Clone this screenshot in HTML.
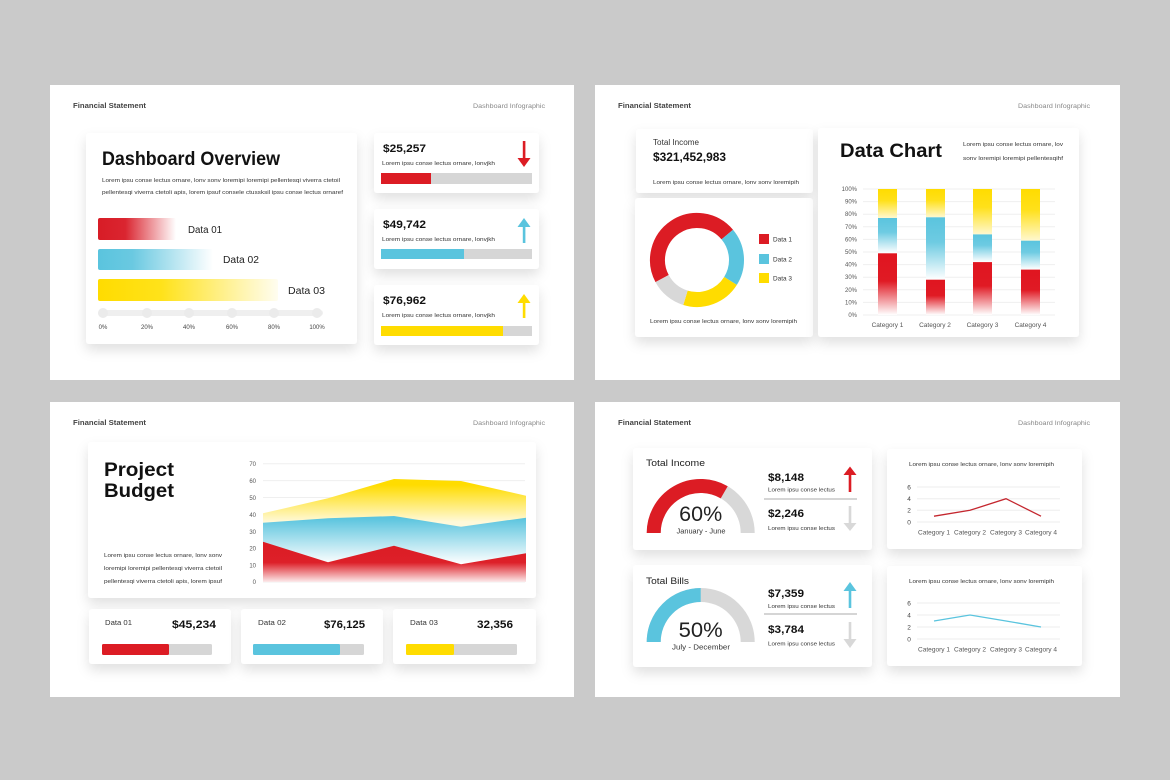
<!DOCTYPE html>
<html><head><meta charset="utf-8"><style>
html,body{margin:0;padding:0;background:#cacaca;}
svg{display:block;}
text{font-family:"Liberation Sans",sans-serif;}
</style></head><body>
<svg width="1170" height="780" viewBox="0 0 1170 780" xmlns="http://www.w3.org/2000/svg">
<defs>
<filter id="sh" x="-20%" y="-25%" width="140%" height="170%"><feDropShadow dx="0" dy="6" stdDeviation="6" flood-color="#000" flood-opacity="0.12"/></filter>
<linearGradient id="hR" x1="0" y1="0" x2="1" y2="0"><stop offset="0" stop-color="#d81c26"/><stop offset="0.35" stop-color="#da2530"/><stop offset="1" stop-color="#ffffff"/></linearGradient>
<linearGradient id="hB" x1="0" y1="0" x2="1" y2="0"><stop offset="0" stop-color="#5ac4de"/><stop offset="0.3" stop-color="#6ac9e1"/><stop offset="1" stop-color="#ffffff"/></linearGradient>
<linearGradient id="hY" x1="0" y1="0" x2="1" y2="0"><stop offset="0" stop-color="#ffdc00"/><stop offset="0.35" stop-color="#ffe21a"/><stop offset="1" stop-color="#fffdf0"/></linearGradient>
<linearGradient id="vR" x1="0" y1="0" x2="0" y2="1"><stop offset="0" stop-color="#e01520"/><stop offset="0.45" stop-color="#e01a24"/><stop offset="1" stop-color="#ffffff"/></linearGradient>
<linearGradient id="vB" x1="0" y1="0" x2="0" y2="1"><stop offset="0" stop-color="#5ac4de"/><stop offset="0.4" stop-color="#6ecbe2"/><stop offset="1" stop-color="#ffffff"/></linearGradient>
<linearGradient id="vY" x1="0" y1="0" x2="0" y2="1"><stop offset="0" stop-color="#ffdc00"/><stop offset="0.4" stop-color="#ffe01a"/><stop offset="1" stop-color="#fff8d0"/></linearGradient>
<linearGradient id="aY" gradientUnits="userSpaceOnUse" x1="0" y1="485" x2="0" y2="522"><stop offset="0" stop-color="#ffdc00"/><stop offset="1" stop-color="#fff9da"/></linearGradient>
<linearGradient id="aB" gradientUnits="userSpaceOnUse" x1="0" y1="518" x2="0" y2="564"><stop offset="0" stop-color="#5ac4de"/><stop offset="1" stop-color="#ffffff"/></linearGradient>
<linearGradient id="aR" gradientUnits="userSpaceOnUse" x1="0" y1="545" x2="0" y2="584"><stop offset="0" stop-color="#dc1c24"/><stop offset="0.45" stop-color="#dd2029"/><stop offset="1" stop-color="#ffffff"/></linearGradient>
</defs>

<rect x="0" y="0" width="1170" height="780" fill="#cacaca"/>

<!-- ============ SLIDE 1 ============ -->
<rect x="50" y="85" width="524" height="295" fill="#ffffff"/>
<text x="73" y="108" font-size="7.5" fill="#444" font-weight="bold" textLength="73" lengthAdjust="spacingAndGlyphs">Financial Statement</text>
<text x="473" y="108" font-size="6.5" fill="#888" textLength="72" lengthAdjust="spacingAndGlyphs">Dashboard Infographic</text>

<rect x="86" y="133" width="271" height="211" rx="3" fill="#fff" filter="url(#sh)"/>
<text x="102" y="165" font-size="19" font-weight="bold" fill="#111" textLength="178" lengthAdjust="spacingAndGlyphs">Dashboard Overview</text>
<text x="102" y="182" font-size="5.4" fill="#333" textLength="238" lengthAdjust="spacingAndGlyphs">Lorem ipsu conse lectus ornare, lonv sonv loremipi loremipi pellentesqi viverra ctetoil</text>
<text x="102" y="194" font-size="5.4" fill="#333" textLength="241" lengthAdjust="spacingAndGlyphs">pellentesqi viverra ctetoli apis, lorem ipsuf consele ctussksil ipsu conse lectus ornaref</text>

<rect x="98" y="218" width="78" height="22" rx="2" fill="url(#hR)"/>
<text x="188" y="233" font-size="10" fill="#222" textLength="34" lengthAdjust="spacingAndGlyphs">Data 01</text>
<rect x="98" y="249" width="115" height="21" rx="2" fill="url(#hB)"/>
<text x="223" y="263" font-size="10" fill="#222" textLength="36" lengthAdjust="spacingAndGlyphs">Data 02</text>
<rect x="98" y="279" width="180" height="22" rx="2" fill="url(#hY)"/>
<text x="288" y="294" font-size="10" fill="#222" textLength="37" lengthAdjust="spacingAndGlyphs">Data 03</text>

<rect x="98" y="310" width="225" height="6" rx="3" fill="#efefef"/>
<g fill="#ebebeb">
<circle cx="103" cy="313" r="5"/><circle cx="147" cy="313" r="5"/><circle cx="189" cy="313" r="5"/>
<circle cx="232" cy="313" r="5"/><circle cx="274" cy="313" r="5"/><circle cx="317" cy="313" r="5"/>
</g>
<g font-size="6" fill="#444" text-anchor="middle">
<text x="103" y="329">0%</text><text x="147" y="329">20%</text><text x="189" y="329">40%</text>
<text x="232" y="329">60%</text><text x="274" y="329">80%</text><text x="317" y="329">100%</text>
</g>

<!-- right cards -->
<rect x="374" y="133" width="165" height="60" rx="3" fill="#fff" filter="url(#sh)"/>
<text x="383" y="152" font-size="11" font-weight="bold" fill="#111" textLength="43" lengthAdjust="spacingAndGlyphs">$25,257</text>
<text x="382" y="165" font-size="5.3" fill="#333" textLength="113" lengthAdjust="spacingAndGlyphs">Lorem ipsu conse lectus ornare, lonvjkh</text>
<rect x="381" y="173" width="151" height="11" fill="#d6d6d6"/>
<rect x="381" y="173" width="50" height="11" fill="#dc1c24"/>
<rect x="522.8" y="141" width="2.6" height="18" fill="#dc1c24"/>
<polygon points="517.5,158 530.5,158 524,167" fill="#dc1c24"/>

<rect x="374" y="209" width="165" height="60" rx="3" fill="#fff" filter="url(#sh)"/>
<text x="383" y="228" font-size="11" font-weight="bold" fill="#111" textLength="43" lengthAdjust="spacingAndGlyphs">$49,742</text>
<text x="382" y="241" font-size="5.3" fill="#333" textLength="113" lengthAdjust="spacingAndGlyphs">Lorem ipsu conse lectus ornare, lonvjkh</text>
<rect x="381" y="249" width="151" height="10" fill="#d6d6d6"/>
<rect x="381" y="249" width="83" height="10" fill="#5ac4de"/>
<polygon points="517.5,227 530.5,227 524,218" fill="#5ac4de"/>
<rect x="522.8" y="226" width="2.6" height="17" fill="#5ac4de"/>

<rect x="374" y="285" width="165" height="60" rx="3" fill="#fff" filter="url(#sh)"/>
<text x="383" y="304" font-size="11" font-weight="bold" fill="#111" textLength="43" lengthAdjust="spacingAndGlyphs">$76,962</text>
<text x="382" y="317" font-size="5.3" fill="#333" textLength="113" lengthAdjust="spacingAndGlyphs">Lorem ipsu conse lectus ornare, lonvjkh</text>
<rect x="381" y="326" width="151" height="10" fill="#d6d6d6"/>
<rect x="381" y="326" width="122" height="10" fill="#ffdc00"/>
<polygon points="517.5,303 530.5,303 524,294" fill="#ffdc00"/>
<rect x="522.8" y="302" width="2.6" height="16" fill="#ffdc00"/>

<!-- ============ SLIDE 2 ============ -->
<rect x="595" y="85" width="525" height="295" fill="#ffffff"/>
<text x="618" y="108" font-size="7.5" fill="#444" font-weight="bold" textLength="73" lengthAdjust="spacingAndGlyphs">Financial Statement</text>
<text x="1018" y="108" font-size="6.5" fill="#888" textLength="72" lengthAdjust="spacingAndGlyphs">Dashboard Infographic</text>

<rect x="636" y="129" width="177" height="64" rx="3" fill="#fff" filter="url(#sh)"/>
<text x="653" y="145" font-size="8" fill="#333" textLength="46" lengthAdjust="spacingAndGlyphs">Total Income</text>
<text x="653" y="161" font-size="12" font-weight="bold" fill="#111" textLength="73" lengthAdjust="spacingAndGlyphs">$321,452,983</text>
<text x="653" y="184" font-size="5.3" fill="#333" textLength="146" lengthAdjust="spacingAndGlyphs">Lorem ipsu conse lectus ornare, lonv sonv loremipih</text>

<rect x="635" y="198" width="178" height="139" rx="3" fill="#fff" filter="url(#sh)"/>
<g fill="none" stroke-width="15">
<path d="M 662.12 278.55 A 39.5 39.5 0 0 1 727.26 234.61" stroke="#dc1c24"/>
<path d="M 727.26 234.61 A 39.5 39.5 0 0 1 730.50 280.93" stroke="#5ac4de"/>
<path d="M 730.50 280.93 A 39.5 39.5 0 0 1 685.45 297.77" stroke="#ffdc00"/>
<path d="M 685.45 297.77 A 39.5 39.5 0 0 1 662.12 278.55" stroke="#d8d8d8"/>
</g>
<rect x="759" y="234" width="10" height="10" fill="#dc1c24"/>
<rect x="759" y="254" width="10" height="10" fill="#5ac4de"/>
<rect x="759" y="273" width="10" height="10" fill="#ffdc00"/>
<g font-size="6.5" fill="#333">
<text x="773" y="241.5" textLength="19" lengthAdjust="spacingAndGlyphs">Data 1</text>
<text x="773" y="261.5" textLength="19" lengthAdjust="spacingAndGlyphs">Data 2</text>
<text x="773" y="280.5" textLength="19" lengthAdjust="spacingAndGlyphs">Data 3</text>
</g>
<text x="650" y="323" font-size="5.3" fill="#333" textLength="147" lengthAdjust="spacingAndGlyphs">Lorem ipsu conse lectus ornare, lonv sonv loremipih</text>

<rect x="818" y="128" width="261" height="209" rx="3" fill="#fff" filter="url(#sh)"/>
<text x="840" y="157" font-size="19" font-weight="bold" fill="#111" textLength="102" lengthAdjust="spacingAndGlyphs">Data Chart</text>
<text x="963" y="146" font-size="5.3" fill="#333" textLength="100" lengthAdjust="spacingAndGlyphs">Lorem ipsu conse lectus ornare, lov</text>
<text x="963" y="160" font-size="5.3" fill="#333" textLength="100" lengthAdjust="spacingAndGlyphs">sonv loremipi loremipi pellentesqihf</text>
<g stroke="#efefef" stroke-width="1">
<line x1="863" y1="189" x2="1055" y2="189"/><line x1="863" y1="201.6" x2="1055" y2="201.6"/>
<line x1="863" y1="214.2" x2="1055" y2="214.2"/><line x1="863" y1="226.8" x2="1055" y2="226.8"/>
<line x1="863" y1="239.4" x2="1055" y2="239.4"/><line x1="863" y1="252" x2="1055" y2="252"/>
<line x1="863" y1="264.6" x2="1055" y2="264.6"/><line x1="863" y1="277.2" x2="1055" y2="277.2"/>
<line x1="863" y1="289.8" x2="1055" y2="289.8"/><line x1="863" y1="302.4" x2="1055" y2="302.4"/>
<line x1="863" y1="315" x2="1055" y2="315"/>
</g>
<g font-size="6" fill="#555" text-anchor="end">
<text x="857" y="191">100%</text><text x="857" y="203.6">90%</text><text x="857" y="216.2">80%</text>
<text x="857" y="228.8">70%</text><text x="857" y="241.4">60%</text><text x="857" y="254">50%</text>
<text x="857" y="266.6">40%</text><text x="857" y="279.2">30%</text><text x="857" y="291.8">20%</text>
<text x="857" y="304.4">10%</text><text x="857" y="317">0%</text>
</g>
<!-- bars -->
<rect x="878" y="189" width="19" height="29" fill="url(#vY)"/>
<rect x="878" y="218" width="19" height="35.3" fill="url(#vB)"/>
<rect x="878" y="253.3" width="19" height="61.7" fill="url(#vR)"/>
<rect x="926" y="189" width="19" height="28.3" fill="url(#vY)"/>
<rect x="926" y="217.3" width="19" height="62.4" fill="url(#vB)"/>
<rect x="926" y="279.7" width="19" height="35.3" fill="url(#vR)"/>
<rect x="973" y="189" width="19" height="45.4" fill="url(#vY)"/>
<rect x="973" y="234.4" width="19" height="27.7" fill="url(#vB)"/>
<rect x="973" y="262.1" width="19" height="52.9" fill="url(#vR)"/>
<rect x="1021" y="189" width="19" height="51.7" fill="url(#vY)"/>
<rect x="1021" y="240.7" width="19" height="28.9" fill="url(#vB)"/>
<rect x="1021" y="269.6" width="19" height="45.4" fill="url(#vR)"/>
<g font-size="6.5" fill="#555" text-anchor="middle">
<text x="887.5" y="327">Category 1</text><text x="935" y="327">Category 2</text>
<text x="982.5" y="327">Category 3</text><text x="1030.5" y="327">Category 4</text>
</g>

<!-- ============ SLIDE 3 ============ -->
<rect x="50" y="402" width="524" height="295" fill="#ffffff"/>
<text x="73" y="425" font-size="7.5" fill="#444" font-weight="bold" textLength="73" lengthAdjust="spacingAndGlyphs">Financial Statement</text>
<text x="473" y="425" font-size="6.5" fill="#888" textLength="72" lengthAdjust="spacingAndGlyphs">Dashboard Infographic</text>

<rect x="88" y="442" width="448" height="156" rx="3" fill="#fff" filter="url(#sh)"/>
<text x="104" y="476" font-size="19.5" font-weight="bold" fill="#111" textLength="70" lengthAdjust="spacingAndGlyphs">Project</text>
<text x="104" y="497" font-size="19.5" font-weight="bold" fill="#111" textLength="70" lengthAdjust="spacingAndGlyphs">Budget</text>
<text x="104" y="557" font-size="5.3" fill="#333" textLength="118" lengthAdjust="spacingAndGlyphs">Lorem ipsu conse lectus ornare, lonv sonv</text>
<text x="104" y="570" font-size="5.3" fill="#333" textLength="118" lengthAdjust="spacingAndGlyphs">loremipi loremipi pellentesqi viverra ctetoil</text>
<text x="104" y="583" font-size="5.3" fill="#333" textLength="118" lengthAdjust="spacingAndGlyphs">pellentesqi viverra ctetoli apis, lorem ipsuf</text>

<g stroke="#efefef" stroke-width="1">
<line x1="263" y1="463.7" x2="525" y2="463.7"/><line x1="263" y1="480.6" x2="525" y2="480.6"/>
<line x1="263" y1="497.5" x2="525" y2="497.5"/><line x1="263" y1="514.4" x2="525" y2="514.4"/>
<line x1="263" y1="531.3" x2="525" y2="531.3"/><line x1="263" y1="548.2" x2="525" y2="548.2"/>
<line x1="263" y1="565.1" x2="525" y2="565.1"/><line x1="263" y1="582" x2="525" y2="582"/>
</g>
<g font-size="6" fill="#555" text-anchor="end">
<text x="256" y="466">70</text><text x="256" y="483">60</text><text x="256" y="500">50</text>
<text x="256" y="517">40</text><text x="256" y="534">30</text><text x="256" y="550.5">20</text>
<text x="256" y="567.5">10</text><text x="256" y="584">0</text>
</g>
<polygon points="263,513.3 328,498.3 394,479 461,481 526,495.7 526,582 263,582" fill="url(#aY)"/>
<polygon points="263,522.7 328,518.3 394,516 461,526.7 526,517.7 526,582 263,582" fill="url(#aB)"/>
<polygon points="263,541.7 328,562.3 394,545.7 461,564.3 526,553.3 526,582 263,582" fill="url(#aR)"/>

<rect x="89" y="609" width="142" height="55" rx="3" fill="#fff" filter="url(#sh)"/>
<text x="105" y="625" font-size="7.5" fill="#333" textLength="27" lengthAdjust="spacingAndGlyphs">Data 01</text>
<text x="172" y="628" font-size="11" font-weight="bold" fill="#111" textLength="44" lengthAdjust="spacingAndGlyphs">$45,234</text>
<rect x="102" y="644" width="110" height="11" rx="1.5" fill="#d6d6d6"/>
<rect x="102" y="644" width="67" height="11" rx="1.5" fill="#dc1c24"/>

<rect x="241" y="609" width="142" height="55" rx="3" fill="#fff" filter="url(#sh)"/>
<text x="258" y="625" font-size="7.5" fill="#333" textLength="28" lengthAdjust="spacingAndGlyphs">Data 02</text>
<text x="324" y="628" font-size="11" font-weight="bold" fill="#111" textLength="41" lengthAdjust="spacingAndGlyphs">$76,125</text>
<rect x="253" y="644" width="111" height="11" rx="1.5" fill="#d6d6d6"/>
<rect x="253" y="644" width="87" height="11" rx="1.5" fill="#5ac4de"/>

<rect x="393" y="609" width="143" height="55" rx="3" fill="#fff" filter="url(#sh)"/>
<text x="410" y="625" font-size="7.5" fill="#333" textLength="28" lengthAdjust="spacingAndGlyphs">Data 03</text>
<text x="477" y="628" font-size="11" font-weight="bold" fill="#111" textLength="36" lengthAdjust="spacingAndGlyphs">32,356</text>
<rect x="406" y="644" width="111" height="11" rx="1.5" fill="#d6d6d6"/>
<rect x="406" y="644" width="48" height="11" rx="1.5" fill="#ffdc00"/>

<!-- ============ SLIDE 4 ============ -->
<rect x="595" y="402" width="525" height="295" fill="#ffffff"/>
<text x="618" y="425" font-size="7.5" fill="#444" font-weight="bold" textLength="73" lengthAdjust="spacingAndGlyphs">Financial Statement</text>
<text x="1018" y="425" font-size="6.5" fill="#888" textLength="72" lengthAdjust="spacingAndGlyphs">Dashboard Infographic</text>

<!-- Total Income -->
<rect x="633" y="448" width="239" height="102" rx="3" fill="#fff" filter="url(#sh)"/>
<text x="646" y="466" font-size="9" fill="#222" textLength="59" lengthAdjust="spacingAndGlyphs">Total Income</text>
<path d="M 653.7 533 A 47 47 0 0 1 747.7 533" fill="none" stroke="#d8d8d8" stroke-width="14"/>
<path d="M 653.7 533 A 47 47 0 0 1 724.2 492.3" fill="none" stroke="#dc1c24" stroke-width="14"/>
<text x="700.7" y="521" font-size="21" fill="#222" text-anchor="middle" textLength="43" lengthAdjust="spacingAndGlyphs">60%</text>
<text x="701" y="533.5" font-size="7" fill="#333" text-anchor="middle" textLength="49" lengthAdjust="spacingAndGlyphs">January - June</text>
<text x="768" y="481" font-size="11" font-weight="bold" fill="#111" textLength="36" lengthAdjust="spacingAndGlyphs">$8,148</text>
<text x="768" y="491.5" font-size="5.3" fill="#333" textLength="67" lengthAdjust="spacingAndGlyphs">Lorem ipsu conse lectus</text>
<rect x="764" y="498" width="93" height="2" fill="#d5d5d5"/>
<text x="768" y="517" font-size="11" font-weight="bold" fill="#111" textLength="36" lengthAdjust="spacingAndGlyphs">$2,246</text>
<text x="768" y="530" font-size="5.3" fill="#333" textLength="67" lengthAdjust="spacingAndGlyphs">Lorem ipsu conse lectus</text>
<polygon points="843.5,475 856.5,475 850,466.5" fill="#dc1c24"/>
<rect x="848.7" y="474" width="2.6" height="18" fill="#dc1c24"/>
<rect x="848.7" y="506" width="2.6" height="18" fill="#d8d8d8"/>
<polygon points="843.5,523 856.5,523 850,531" fill="#d8d8d8"/>

<!-- Total Bills -->
<rect x="633" y="565" width="239" height="102" rx="3" fill="#fff" filter="url(#sh)"/>
<text x="646" y="584" font-size="9" fill="#222" textLength="43" lengthAdjust="spacingAndGlyphs">Total Bills</text>
<path d="M 653.7 642 A 47 47 0 0 1 747.7 642" fill="none" stroke="#d8d8d8" stroke-width="14"/>
<path d="M 653.7 642 A 47 47 0 0 1 700.7 595" fill="none" stroke="#5ac4de" stroke-width="14"/>
<text x="700.7" y="637" font-size="21" fill="#222" text-anchor="middle" textLength="44" lengthAdjust="spacingAndGlyphs">50%</text>
<text x="701" y="649.5" font-size="7" fill="#333" text-anchor="middle" textLength="58" lengthAdjust="spacingAndGlyphs">July - December</text>
<text x="768" y="597" font-size="11" font-weight="bold" fill="#111" textLength="36" lengthAdjust="spacingAndGlyphs">$7,359</text>
<text x="768" y="608" font-size="5.3" fill="#333" textLength="67" lengthAdjust="spacingAndGlyphs">Lorem ipsu conse lectus</text>
<rect x="764" y="613" width="93" height="2" fill="#d5d5d5"/>
<text x="768" y="633" font-size="11" font-weight="bold" fill="#111" textLength="36" lengthAdjust="spacingAndGlyphs">$3,784</text>
<text x="768" y="645.5" font-size="5.3" fill="#333" textLength="67" lengthAdjust="spacingAndGlyphs">Lorem ipsu conse lectus</text>
<polygon points="843.5,591 856.5,591 850,582" fill="#5ac4de"/>
<rect x="848.7" y="590" width="2.6" height="18" fill="#5ac4de"/>
<rect x="848.7" y="622" width="2.6" height="18" fill="#d8d8d8"/>
<polygon points="843.5,639 856.5,639 850,648" fill="#d8d8d8"/>

<!-- Line chart 1 -->
<rect x="887" y="449" width="195" height="100" rx="3" fill="#fff" filter="url(#sh)"/>
<text x="909" y="466" font-size="5.4" fill="#333" textLength="145" lengthAdjust="spacingAndGlyphs">Lorem ipsu conse lectus ornare, lonv sonv loremipih</text>
<g stroke="#eeeeee" stroke-width="1">
<line x1="917" y1="487" x2="1060" y2="487"/><line x1="917" y1="498.7" x2="1060" y2="498.7"/>
<line x1="917" y1="510.3" x2="1060" y2="510.3"/><line x1="917" y1="522" x2="1060" y2="522"/>
</g>
<g font-size="6.5" fill="#444" text-anchor="middle">
<text x="909" y="489.3">6</text><text x="909" y="501">4</text><text x="909" y="512.6">2</text><text x="909" y="524.3">0</text>
</g>
<polyline points="934,516.2 970,510.3 1006,498.7 1041,516.2" fill="none" stroke="#c4262e" stroke-width="1.3"/>
<g font-size="6.5" fill="#555" text-anchor="middle">
<text x="934" y="534.5" textLength="32" lengthAdjust="spacingAndGlyphs">Category 1</text>
<text x="970" y="534.5" textLength="32" lengthAdjust="spacingAndGlyphs">Category 2</text>
<text x="1006" y="534.5" textLength="32" lengthAdjust="spacingAndGlyphs">Category 3</text>
<text x="1041" y="534.5" textLength="32" lengthAdjust="spacingAndGlyphs">Category 4</text>
</g>

<!-- Line chart 2 -->
<rect x="887" y="566" width="195" height="100" rx="3" fill="#fff" filter="url(#sh)"/>
<text x="909" y="583" font-size="5.4" fill="#333" textLength="145" lengthAdjust="spacingAndGlyphs">Lorem ipsu conse lectus ornare, lonv sonv loremipih</text>
<g stroke="#eeeeee" stroke-width="1">
<line x1="917" y1="603" x2="1060" y2="603"/><line x1="917" y1="615" x2="1060" y2="615"/>
<line x1="917" y1="627" x2="1060" y2="627"/><line x1="917" y1="639" x2="1060" y2="639"/>
</g>
<g font-size="6.5" fill="#444" text-anchor="middle">
<text x="909" y="605.3">6</text><text x="909" y="617.3">4</text><text x="909" y="629.3">2</text><text x="909" y="641.3">0</text>
</g>
<polyline points="934,621 970,615 1006,621 1041,627" fill="none" stroke="#5ac4de" stroke-width="1.3"/>
<g font-size="6.5" fill="#555" text-anchor="middle">
<text x="934" y="651.5" textLength="32" lengthAdjust="spacingAndGlyphs">Category 1</text>
<text x="970" y="651.5" textLength="32" lengthAdjust="spacingAndGlyphs">Category 2</text>
<text x="1006" y="651.5" textLength="32" lengthAdjust="spacingAndGlyphs">Category 3</text>
<text x="1041" y="651.5" textLength="32" lengthAdjust="spacingAndGlyphs">Category 4</text>
</g>
</svg>
</body></html>
